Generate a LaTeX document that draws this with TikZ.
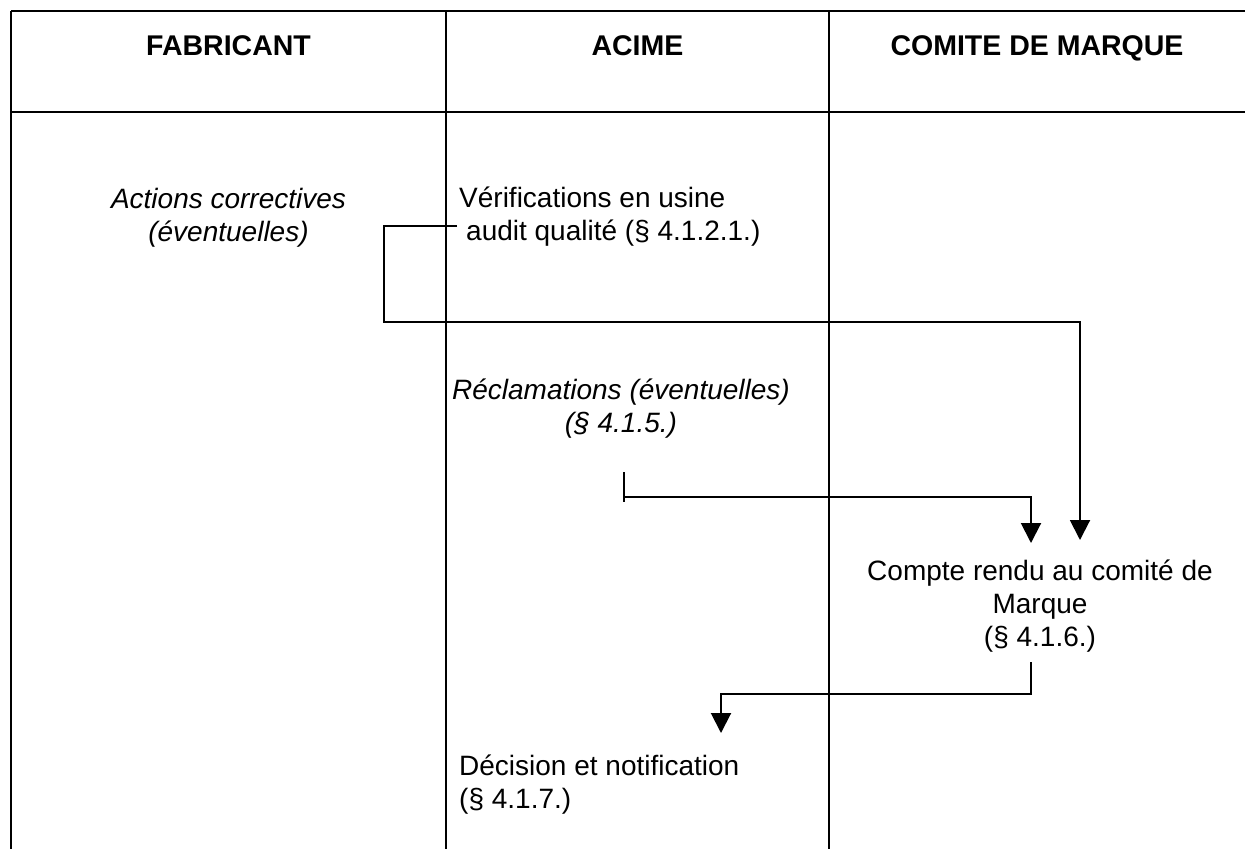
\documentclass[tikz,border=0pt]{standalone}
\usepackage{fontspec}
\setmainfont{Liberation Sans}
\usetikzlibrary{arrows.meta}
\begin{document}
\begin{tikzpicture}[x=1pt,y=-1pt,
  grid/.style={line width=1.4pt},
  conn/.style={line width=2pt},
  arr/.style={conn,-{Triangle[length=20pt,width=20pt]}},
  txt/.style={font=\fontsize{28}{33}\selectfont, inner sep=0pt, align=center},
  txtl/.style={font=\fontsize{28}{33}\selectfont, inner sep=0pt, align=left},
  hdr/.style={font=\fontsize{28.5}{33}\selectfont\bfseries, inner sep=0pt}]
\useasboundingbox (0,0) rectangle (1245,849);
% table
\draw[grid] (11,11) -- (1245,11);
\draw[grid] (11,112) -- (1245,112);
\draw[grid] (11,11) -- (11,849);
\draw[grid] (446,11) -- (446,849);
\draw[grid] (829,11) -- (829,849);
% headers
\node[hdr, anchor=base] (hfab) at (228.5,55) {FABRICANT};
\node[hdr, anchor=base] (hacime) at (637.5,55) {ACIME};
\node[hdr, anchor=base] (hcomite) at (1037,55) {COMITE DE MARQUE};
% texts (anchor=base is the baseline of the last line)
\node[txt, anchor=base, font=\fontsize{28}{33}\selectfont\itshape] (actions) at (228.5,241) {Actions correctives\\(éventuelles)};
\node[txtl, anchor=base west] (verif) at (459,240) {Vérifications en usine\\\hspace*{0.25em}audit qualité (§ 4.1.2.1.)};
\node[txt, anchor=base, font=\fontsize{28}{33}\selectfont\itshape] (reclam) at (621,432) {Réclamations (éventuelles)\\(§ 4.1.5.)};
\node[txt, anchor=base] (compte) at (1040,646) {Compte rendu au comité de\\Marque\\(§ 4.1.6.)};
\node[txtl, anchor=base west] (decision) at (459,808) {Décision et notification\\(§ 4.1.7.)};
% connector coordinates
\coordinate (v0) at (457,226);
\coordinate (v1) at (384,226);
\coordinate (v2) at (384,322);
\coordinate (v3) at (1080,322);
\coordinate (v4) at (1080,540);
\coordinate (r0) at (624,472);
\coordinate (r1) at (624,502);
\coordinate (r2) at (624,497);
\coordinate (r3) at (1031,497);
\coordinate (r4) at (1031,543);
\coordinate (c0) at (1031,662);
\coordinate (c1) at (1031,694);
\coordinate (c2) at (721,694);
\coordinate (c3) at (721,733);
% connectors
\draw[arr] (v0) -- (v1) -- (v2) -- (v3) -- (v4);
\draw[conn] (r0) -- (r1);
\draw[arr] (r2) -- (r3) -- (r4);
\draw[arr] (c0) -- (c1) -- (c2) -- (c3);
\end{tikzpicture}
\end{document}
